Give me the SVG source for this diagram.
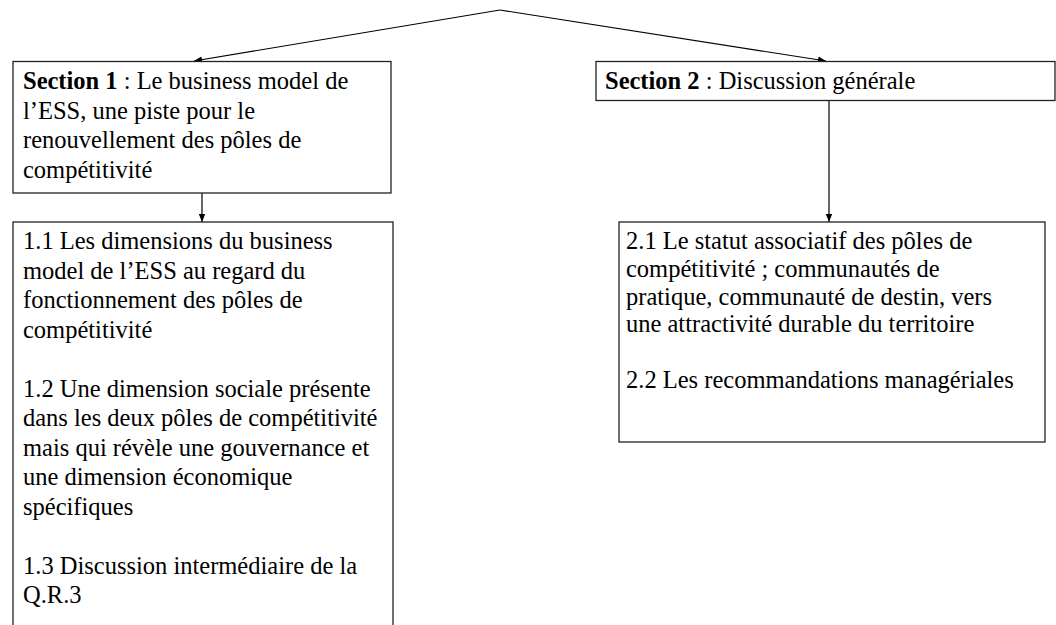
<svg xmlns="http://www.w3.org/2000/svg" width="1056" height="625" viewBox="0 0 1056 625">
<defs>
<marker id="ah" markerWidth="8" markerHeight="8" refX="8" refY="4" orient="auto" markerUnits="userSpaceOnUse">
<path d="M0,0.8 L8,4 L0,7.2 Z" fill="#000"/>
</marker>
<style>
.box{fill:#fff;stroke:#222;stroke-width:1.3}
.t{font-family:"Liberation Serif","Times New Roman",serif;font-size:24.5px;fill:#000}
.b{font-weight:bold}
.c{stroke:#000;stroke-width:1.2;fill:none}
</style>
</defs>
<rect width="1056" height="625" fill="#fff"/>
<g id="connectors">
<line class="c" x1="500" y1="10" x2="194" y2="61" marker-end="url(#ah)"/>
<line class="c" x1="500" y1="10" x2="826" y2="61" marker-end="url(#ah)"/>
<line class="c" x1="202" y1="193" x2="202" y2="222" marker-end="url(#ah)"/>
<line class="c" x1="829" y1="101" x2="829" y2="222" marker-end="url(#ah)"/>
</g>
<g id="section1" font-family="Liberation Serif, Times New Roman, serif">
<rect class="box" x="13" y="61.5" width="378" height="131.5"/>
<text class="t" x="23" y="89"><tspan class="b">Section 1</tspan> : Le business model de</text>
<text class="t" x="23" y="118.5">l’ESS, une piste pour le</text>
<text class="t" x="23" y="148">renouvellement des pôles de</text>
<text class="t" x="23" y="177.5">compétitivité</text>
</g>
<g id="section2" font-family="Liberation Serif, Times New Roman, serif">
<rect class="box" x="596" y="61.5" width="459" height="39"/>
<text class="t" x="605" y="89"><tspan class="b">Section 2</tspan> : Discussion générale</text>
</g>
<g id="box11" font-family="Liberation Serif, Times New Roman, serif">
<rect class="box" x="13" y="222" width="380" height="420"/>
<text class="t" x="23" y="249">1.1 Les dimensions du business</text>
<text class="t" x="23" y="278.5">model de l’ESS au regard du</text>
<text class="t" x="23" y="308">fonctionnement des pôles de</text>
<text class="t" x="23" y="337.5">compétitivité</text>
<text class="t" x="23" y="396.5">1.2 Une dimension sociale présente</text>
<text class="t" x="23" y="426">dans les deux pôles de compétitivité</text>
<text class="t" x="23" y="455.5">mais qui révèle une gouvernance et</text>
<text class="t" x="23" y="485">une dimension économique</text>
<text class="t" x="23" y="514.5">spécifiques</text>
<text class="t" x="23" y="573.5">1.3 Discussion intermédiaire de la</text>
<text class="t" x="23" y="603">Q.R.3</text>
</g>
<g id="box21" font-family="Liberation Serif, Times New Roman, serif">
<rect class="box" x="619" y="222" width="426" height="220"/>
<text class="t" x="626" y="249">2.1 Le statut associatif des pôles de</text>
<text class="t" x="626" y="276.8">compétitivité ; communautés de</text>
<text class="t" x="626" y="304.6">pratique, communauté de destin, vers</text>
<text class="t" x="626" y="332.4">une attractivité durable du territoire</text>
<text class="t" x="626" y="388">2.2 Les recommandations managériales</text>
</g>
</svg>
